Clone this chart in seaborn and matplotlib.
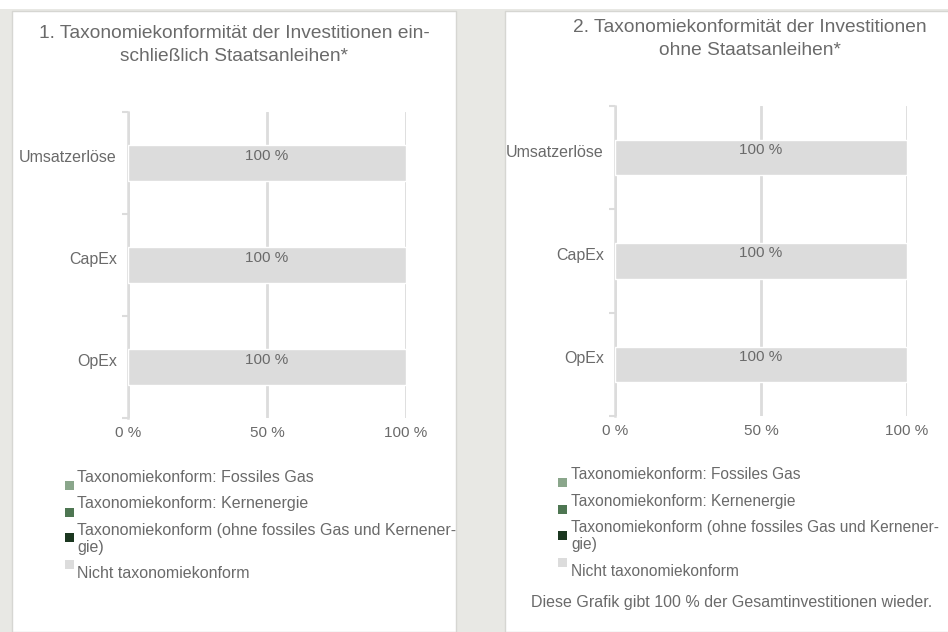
import matplotlib
matplotlib.use('Agg')
import matplotlib.pyplot as plt
import matplotlib.transforms as mtransforms
from matplotlib.patches import Rectangle
import seaborn as sns

# === DATA ===
categories = ["Umsatzerlöse", "CapEx", "OpEx"]
values_left = [100, 100, 100]
values_right = [100, 100, 100]
x_ticks = [0, 50, 100]
x_tick_labels = ["0 %", "50 %", "100 %"]
title_left = "1. Taxonomiekonformität der Investitionen ein-\nschließlich Staatsanleihen*"
title_right = "2. Taxonomiekonformität der Investitionen\nohne Staatsanleihen*"
legend_labels = [
    "Taxonomiekonform: Fossiles Gas",
    "Taxonomiekonform: Kernenergie",
    "Taxonomiekonform (ohne fossiles Gas und Kernener-\ngie)",
    "Nicht taxonomiekonform",
]
legend_colors = ["#8aa68b", "#4e7652", "#1b3720", "#dcdcdc"]
footer = "Diese Grafik gibt 100 % der Gesamtinvestitionen wieder."

# === STYLE ===
sns.set_style("white")
plt.rcParams['font.family'] = ['Liberation Sans', 'DejaVu Sans']
TEXT = "#6a6a6a"
LINE = "#dcdcdc"
BAR = "#dcdcdc"
BG = "#e8e8e4"

W, H = 948, 632
fig = plt.figure(figsize=(W / 100, H / 100), dpi=100, facecolor=BG)


def fx(px):
    return px / W


def fy(py):
    return 1 - py / H


# page background: white strip on top, two white panels
fig.patches.append(Rectangle((0, fy(9)), 1, 9 / H, transform=fig.transFigure,
                             facecolor="white", edgecolor="none", zorder=-2))
for x0, x1 in [(12, 456), (505, 960)]:
    fig.patches.append(Rectangle((fx(x0), 0), fx(x1 - x0), fy(11), transform=fig.transFigure,
                                 facecolor="white", edgecolor="#d6d6d2", linewidth=1, zorder=-2))


def draw_panel(rect, values, title, title_xy):
    ax = fig.add_axes(rect)
    ax.set_zorder(1)
    ax.set_facecolor("none")
    sns.barplot(x=values, y=categories, orient="h", color=BAR, width=0.345,
                saturation=1, ax=ax, zorder=3)
    ax.set_xlim(0, 100)
    ax.set_ylim(2.5, -0.5)
    ax.set_xticks(x_ticks)
    ax.set_xticklabels(x_tick_labels)
    ax.set_xlabel("")
    ax.set_ylabel("")
    ax.tick_params(axis="x", length=0, pad=6, labelsize=11, labelcolor=TEXT)
    ax.tick_params(axis="y", which="major", length=0, pad=8, labelsize=11.5, labelcolor=TEXT)
    ax.set_yticks([-0.5, 0.5, 1.5, 2.5], minor=True)
    ax.tick_params(axis="y", which="minor", left=True, length=4, width=1.5, color=LINE)
    for side in ["top", "right", "bottom"]:
        ax.spines[side].set_visible(False)
    ax.spines["left"].set_color(LINE)
    ax.spines["left"].set_linewidth(1.8)
    ax.grid(axis="x", color=LINE, linewidth=2, zorder=1)
    ax.grid(axis="y", visible=False)
    ax.set_axisbelow(True)

    # category labels sit slightly above the bar centre
    lift = mtransforms.ScaledTranslation(0, 0.07, fig.dpi_scale_trans)
    for lab in ax.get_yticklabels():
        lab.set_transform(lab.get_transform() + lift)

    val_tr = mtransforms.offset_copy(ax.transData, fig=fig, x=0, y=7.5, units="dots")
    for i, v in enumerate(values):
        ax.text(v / 2, i, f"{v} %", ha="center", va="center", fontsize=11,
                color=TEXT, transform=val_tr, zorder=4)

    fig.text(fx(title_xy[0]), fy(title_xy[1]), title, ha="center", va="center",
             multialignment="center", fontsize=13.8, color=TEXT, linespacing=1.5)
    return ax


draw_panel([fx(128), fy(418), fx(406 - 128), (418 - 112) / H], values_left, title_left, (234, 45))
draw_panel([fx(615), fy(416), fx(907 - 615), (416 - 106) / H], values_right, title_right, (750, 39))


def draw_legend(sq_x, txt_x, txt_ys, sq_ys, size):
    for lab, col, ty, sy in zip(legend_labels, legend_colors, txt_ys, sq_ys):
        fig.patches.append(Rectangle((fx(sq_x), fy(sy + 4.5)), fx(9), 9 / H,
                                     transform=fig.transFigure, facecolor=col,
                                     edgecolor="none", zorder=2))
        fig.text(fx(txt_x), fy(ty), lab, ha="left", va="top", fontsize=size,
                 color=TEXT, linespacing=1.15)


draw_legend(65, 77, [470, 496, 523, 566], [485, 512, 537, 564], 11.5)
draw_legend(558, 571, [467, 494, 520, 564], [482, 509, 535, 562], 11.2)

fig.text(fx(732), fy(603), footer, ha="center", va="center", fontsize=11.5, color=TEXT)

fig.savefig("out.png", dpi=100, facecolor=BG)
